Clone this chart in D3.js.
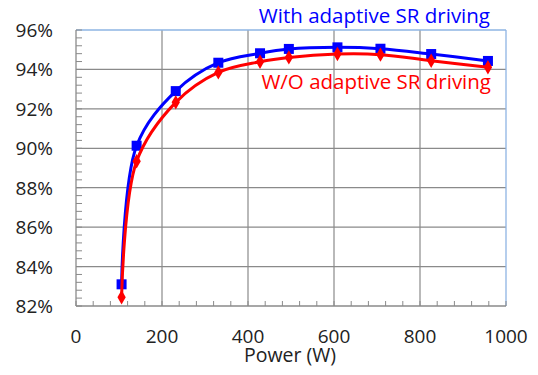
<!DOCTYPE html>
<html>
<head>
<meta charset="utf-8">
<script src="https://cdn.jsdelivr.net/npm/d3@7"></script>
<style>
  html, body { margin: 0; padding: 0; background: #fff; }
  svg { display: block; font-family: "Open Sans", sans-serif; }
</style>
</head>
<body>
<svg id="chart" width="538" height="375"></svg>
<script>
const power = [106, 141, 232, 331, 428, 495, 608, 708, 826, 958];
const withAdaptive = [83.1, 90.13, 92.9, 94.34, 94.82, 95.04, 95.12, 95.05, 94.78, 94.43];
const withoutAdaptive = [82.44, 89.34, 92.33, 93.85, 94.39, 94.61, 94.78, 94.75, 94.44, 94.11];
const xTicks = [0, 200, 400, 600, 800, 1000];
const yTicks = [82, 84, 86, 88, 90, 92, 94, 96];
const seriesNames = ["With adaptive SR driving", "W/O adaptive SR driving"];
const xTitle = "Power (W)";

const svg = d3.select("#chart");
const x = d3.scaleLinear().domain([0, 1000]).range([76, 506]);
const y = d3.scaleLinear().domain([82, 96]).range([306, 30]);

const grid = svg.append("g");
grid.selectAll("line.h").data(yTicks.slice(1, -1)).join("line")
  .attr("x1", x(0)).attr("x2", x(1000))
  .attr("y1", d => y(d)).attr("y2", d => y(d))
  .attr("stroke", "#8a8a8a").attr("stroke-width", 1.2);
grid.selectAll("line.v").data(xTicks.slice(1, -1)).join("line")
  .attr("y1", y(82)).attr("y2", y(96))
  .attr("x1", d => x(d)).attr("x2", d => x(d))
  .attr("stroke", "#8a8a8a").attr("stroke-width", 1.2);
svg.append("line").attr("x1", x(0)).attr("x2", x(1000)).attr("y1", y(96)).attr("y2", y(96))
  .attr("stroke", "#8eb4e3").attr("stroke-width", 1.3);
svg.append("line").attr("x1", x(1000)).attr("x2", x(1000)).attr("y1", y(96)).attr("y2", y(82))
  .attr("stroke", "#8eb4e3").attr("stroke-width", 1.3);

const yMinor = d3.range(82, 96.001, 0.4);
svg.append("g").selectAll("line").data(yMinor).join("line")
  .attr("x1", x(0)).attr("x2", x(0) + 6)
  .attr("y1", d => y(d)).attr("y2", d => y(d))
  .attr("stroke", "#8a8a8a").attr("stroke-width", 1);
const xMinor = d3.range(0, 1000.001, 40);
svg.append("g").selectAll("line").data(xMinor).join("line")
  .attr("x1", d => x(d)).attr("x2", d => x(d))
  .attr("y1", y(82)).attr("y2", y(82) - 5)
  .attr("stroke", "#8a8a8a").attr("stroke-width", 1);

svg.append("line").attr("x1", x(0)).attr("x2", x(0)).attr("y1", y(96)).attr("y2", y(82))
  .attr("stroke", "#8a8a8a").attr("stroke-width", 1.3);
svg.append("line").attr("x1", x(0)).attr("x2", x(1000)).attr("y1", y(82)).attr("y2", y(82))
  .attr("stroke", "#8a8a8a").attr("stroke-width", 1.3);

svg.append("g").selectAll("text").data(yTicks).join("text")
  .attr("x", 53).attr("y", d => y(d) + 7)
  .attr("text-anchor", "end").attr("font-size", 19).attr("fill", "#222")
  .text(d => d + "%");
svg.append("g").selectAll("text").data(xTicks).join("text")
  .attr("x", d => x(d)).attr("y", 343)
  .attr("text-anchor", "middle").attr("font-size", 19).attr("fill", "#222")
  .text(d => d);
svg.append("text").attr("x", 290).attr("y", 362)
  .attr("text-anchor", "middle").attr("font-size", 19.5).attr("fill", "#222")
  .text(xTitle);

const line = d3.line().curve(d3.curveCatmullRom.alpha(0.5))
  .x((d, i) => x(power[i])).y(d => y(d));

svg.append("path").datum(withAdaptive).attr("d", line)
  .attr("fill", "none").attr("stroke", "#0000ff").attr("stroke-width", 3);
svg.append("g").selectAll("rect").data(withAdaptive).join("rect")
  .attr("x", (d, i) => x(power[i]) - 5).attr("y", d => y(d) - 5)
  .attr("width", 10).attr("height", 10).attr("fill", "#0000ff");

svg.append("path").datum(withoutAdaptive).attr("d", line)
  .attr("fill", "none").attr("stroke", "#ff0000").attr("stroke-width", 3);
const diamond = d3.symbol().type(d3.symbolDiamond).size(60);
svg.append("g").selectAll("path").data(withoutAdaptive).join("path")
  .attr("d", diamond)
  .attr("transform", (d, i) => `translate(${x(power[i])},${y(d)})`)
  .attr("fill", "#ff0000");

svg.append("text").attr("x", 490).attr("y", 23).attr("text-anchor", "end")
  .attr("font-size", 20.5).attr("fill", "#0000ff").text(seriesNames[0]);
svg.append("text").attr("x", 491).attr("y", 89).attr("text-anchor", "end")
  .attr("font-size", 20.5).attr("fill", "#ff0000").text(seriesNames[1]);
</script>
</body>
</html>
